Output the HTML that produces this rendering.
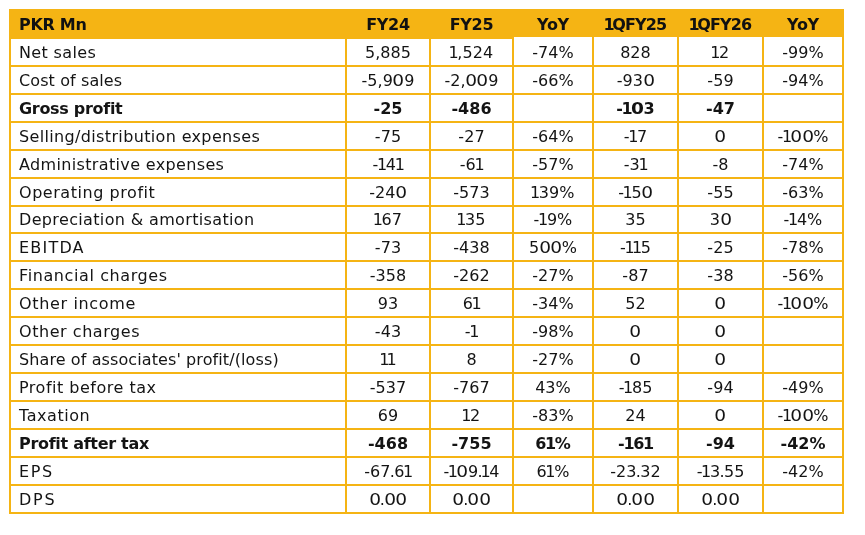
<!DOCTYPE html>
<html><head><meta charset="utf-8"><title>PKR Mn</title>
<style>
html,body{margin:0;padding:0;background:#fff;}
#wrap{position:relative;width:865px;height:535px;background:#fff;overflow:hidden;font-family:"DejaVu Sans", "Liberation Sans", sans-serif;color:#141414;}
.hd{position:absolute;background:#F5B414;}
.v{position:absolute;width:2px;background:#F5B414;top:9px;height:505px;}
.h{position:absolute;height:2px;background:#F5B414;left:9px;width:835px;}
.c{position:absolute;display:flex;align-items:center;justify-content:center;white-space:nowrap;font-size:16px;letter-spacing:0.35px;}
.c span{display:inline-block;transform:translateY(0px) scaleX(1.0);transform-origin:center center;}
.c.l{justify-content:flex-start;}
.c.l span{transform-origin:left center;}
.c.b{font-weight:bold;font-size:16px;letter-spacing:-0.3px;}
.c.b span{transform:translateY(0px) scaleX(1.0);}
.c.hh{font-weight:bold;font-size:16px;letter-spacing:-0.3px;color:#111;}
.c.hh.q{letter-spacing:-0.9px;}
.c.n{letter-spacing:0.05px;}
.c.n.b{letter-spacing:0px;}
.c i{font-style:normal;margin:0 -1.4px;}
.c u{text-decoration:none;display:inline-block;transform:scaleX(1.16);margin:0 0.5px;}
.c s{text-decoration:none;margin:0 -0.7px;}
.c.b i{margin:0 -1.3px;}
.c.hh span{transform:translateY(0px) scaleX(1.0);}
</style></head><body>
<div id="wrap">
<div class="hd" style="left:9px;top:9px;width:835px;height:28px"></div>
<div class="hd" style="left:9px;top:37px;width:504px;height:2px"></div>

<div class="v" style="left:9px"></div>
<div class="v" style="left:345px"></div>
<div class="v" style="left:429px"></div>
<div class="v" style="left:512px"></div>
<div class="v" style="left:592px"></div>
<div class="v" style="left:677px"></div>
<div class="v" style="left:762px"></div>
<div class="v" style="left:842px"></div>
<div class="h" style="top:65px"></div>
<div class="h" style="top:93px"></div>
<div class="h" style="top:121px"></div>
<div class="h" style="top:149px"></div>
<div class="h" style="top:177px"></div>
<div class="h" style="top:205px"></div>
<div class="h" style="top:232px"></div>
<div class="h" style="top:260px"></div>
<div class="h" style="top:288px"></div>
<div class="h" style="top:316px"></div>
<div class="h" style="top:344px"></div>
<div class="h" style="top:372px"></div>
<div class="h" style="top:400px"></div>
<div class="h" style="top:428px"></div>
<div class="h" style="top:456px"></div>
<div class="h" style="top:484px"></div>
<div class="h" style="top:512px"></div>
<div class="c l hh" style="left:19px;top:9px;width:326px;height:30px"><span>PKR Mn</span></div>
<div class="c hh" style="left:347px;top:9px;width:82px;height:30px"><span>FY24</span></div>
<div class="c hh" style="left:431px;top:9px;width:81px;height:30px"><span>FY25</span></div>
<div class="c hh" style="left:514px;top:9px;width:78px;height:30px"><span>YoY</span></div>
<div class="c hh q" style="left:594px;top:9px;width:83px;height:30px"><span><i>1</i>QFY25</span></div>
<div class="c hh q" style="left:679px;top:9px;width:83px;height:30px"><span><i>1</i>QFY26</span></div>
<div class="c hh" style="left:764px;top:9px;width:78px;height:30px"><span>YoY</span></div>
<div class="c l " style="left:19px;top:39px;width:326px;height:26px"><span>Net sales</span></div>
<div class="c n" style="left:347px;top:39px;width:82px;height:26px"><span>5,885</span></div>
<div class="c n" style="left:431px;top:39px;width:81px;height:26px"><span><i>1</i>,524</span></div>
<div class="c n" style="left:514px;top:39px;width:78px;height:26px"><span>-74%</span></div>
<div class="c n" style="left:594px;top:39px;width:83px;height:26px"><span>828</span></div>
<div class="c n" style="left:679px;top:39px;width:83px;height:26px"><span><i>1</i>2</span></div>
<div class="c n" style="left:764px;top:39px;width:78px;height:26px"><span>-99%</span></div>
<div class="c l " style="left:19px;top:67px;width:326px;height:26px;letter-spacing:0.1px"><span>Cost of sales</span></div>
<div class="c n" style="left:347px;top:67px;width:82px;height:26px"><span>-5,9<u>0</u>9</span></div>
<div class="c n" style="left:431px;top:67px;width:81px;height:26px"><span>-2,<u>0</u><u>0</u>9</span></div>
<div class="c n" style="left:514px;top:67px;width:78px;height:26px"><span>-66%</span></div>
<div class="c n" style="left:594px;top:67px;width:83px;height:26px"><span>-93<u>0</u></span></div>
<div class="c n" style="left:679px;top:67px;width:83px;height:26px"><span>-59</span></div>
<div class="c n" style="left:764px;top:67px;width:78px;height:26px"><span>-94%</span></div>
<div class="c l b" style="left:19px;top:95px;width:326px;height:26px"><span>Gross profit</span></div>
<div class="c b n" style="left:347px;top:95px;width:82px;height:26px"><span>-25</span></div>
<div class="c b n" style="left:431px;top:95px;width:81px;height:26px"><span>-486</span></div>
<div class="c b n" style="left:594px;top:95px;width:83px;height:26px"><span>-<i>1</i><u>0</u>3</span></div>
<div class="c b n" style="left:679px;top:95px;width:83px;height:26px"><span>-47</span></div>
<div class="c l " style="left:19px;top:123px;width:326px;height:26px"><span>Selling/distribution expenses</span></div>
<div class="c n" style="left:347px;top:123px;width:82px;height:26px"><span>-75</span></div>
<div class="c n" style="left:431px;top:123px;width:81px;height:26px"><span>-27</span></div>
<div class="c n" style="left:514px;top:123px;width:78px;height:26px"><span>-64%</span></div>
<div class="c n" style="left:594px;top:123px;width:83px;height:26px"><span>-<i>1</i>7</span></div>
<div class="c n" style="left:679px;top:123px;width:83px;height:26px"><span><u>0</u></span></div>
<div class="c n" style="left:764px;top:123px;width:78px;height:26px"><span>-<i>1</i><u>0</u><u>0</u>%</span></div>
<div class="c l " style="left:19px;top:151px;width:326px;height:26px"><span>Administrative expenses</span></div>
<div class="c n" style="left:347px;top:151px;width:82px;height:26px"><span>-<i>1</i>4<i>1</i></span></div>
<div class="c n" style="left:431px;top:151px;width:81px;height:26px"><span>-6<i>1</i></span></div>
<div class="c n" style="left:514px;top:151px;width:78px;height:26px"><span>-57%</span></div>
<div class="c n" style="left:594px;top:151px;width:83px;height:26px"><span>-3<i>1</i></span></div>
<div class="c n" style="left:679px;top:151px;width:83px;height:26px"><span>-8</span></div>
<div class="c n" style="left:764px;top:151px;width:78px;height:26px"><span>-74%</span></div>
<div class="c l " style="left:19px;top:179px;width:326px;height:26px;letter-spacing:0.55px"><span>Operating profit</span></div>
<div class="c n" style="left:347px;top:179px;width:82px;height:26px"><span>-24<u>0</u></span></div>
<div class="c n" style="left:431px;top:179px;width:81px;height:26px"><span>-573</span></div>
<div class="c n" style="left:514px;top:179px;width:78px;height:26px"><span><i>1</i>39%</span></div>
<div class="c n" style="left:594px;top:179px;width:83px;height:26px"><span>-<i>1</i>5<u>0</u></span></div>
<div class="c n" style="left:679px;top:179px;width:83px;height:26px"><span>-55</span></div>
<div class="c n" style="left:764px;top:179px;width:78px;height:26px"><span>-63%</span></div>
<div class="c l " style="left:19px;top:207px;width:326px;height:25px"><span>Depreciation &amp; amortisation</span></div>
<div class="c n" style="left:347px;top:207px;width:82px;height:25px"><span><i>1</i>67</span></div>
<div class="c n" style="left:431px;top:207px;width:81px;height:25px"><span><i>1</i>35</span></div>
<div class="c n" style="left:514px;top:207px;width:78px;height:25px"><span>-<i>1</i>9%</span></div>
<div class="c n" style="left:594px;top:207px;width:83px;height:25px"><span>35</span></div>
<div class="c n" style="left:679px;top:207px;width:83px;height:25px"><span>3<u>0</u></span></div>
<div class="c n" style="left:764px;top:207px;width:78px;height:25px"><span>-<i>1</i>4%</span></div>
<div class="c l " style="left:19px;top:234px;width:326px;height:26px;letter-spacing:1.2px"><span>EBITDA</span></div>
<div class="c n" style="left:347px;top:234px;width:82px;height:26px"><span>-73</span></div>
<div class="c n" style="left:431px;top:234px;width:81px;height:26px"><span>-438</span></div>
<div class="c n" style="left:514px;top:234px;width:78px;height:26px"><span>5<u>0</u><u>0</u>%</span></div>
<div class="c n" style="left:594px;top:234px;width:83px;height:26px"><span>-<i>1</i><i>1</i>5</span></div>
<div class="c n" style="left:679px;top:234px;width:83px;height:26px"><span>-25</span></div>
<div class="c n" style="left:764px;top:234px;width:78px;height:26px"><span>-78%</span></div>
<div class="c l " style="left:19px;top:262px;width:326px;height:26px;letter-spacing:0.6px"><span>Financial charges</span></div>
<div class="c n" style="left:347px;top:262px;width:82px;height:26px"><span>-358</span></div>
<div class="c n" style="left:431px;top:262px;width:81px;height:26px"><span>-262</span></div>
<div class="c n" style="left:514px;top:262px;width:78px;height:26px"><span>-27%</span></div>
<div class="c n" style="left:594px;top:262px;width:83px;height:26px"><span>-87</span></div>
<div class="c n" style="left:679px;top:262px;width:83px;height:26px"><span>-38</span></div>
<div class="c n" style="left:764px;top:262px;width:78px;height:26px"><span>-56%</span></div>
<div class="c l " style="left:19px;top:290px;width:326px;height:26px;letter-spacing:0.65px"><span>Other income</span></div>
<div class="c n" style="left:347px;top:290px;width:82px;height:26px"><span>93</span></div>
<div class="c n" style="left:431px;top:290px;width:81px;height:26px"><span>6<i>1</i></span></div>
<div class="c n" style="left:514px;top:290px;width:78px;height:26px"><span>-34%</span></div>
<div class="c n" style="left:594px;top:290px;width:83px;height:26px"><span>52</span></div>
<div class="c n" style="left:679px;top:290px;width:83px;height:26px"><span><u>0</u></span></div>
<div class="c n" style="left:764px;top:290px;width:78px;height:26px"><span>-<i>1</i><u>0</u><u>0</u>%</span></div>
<div class="c l " style="left:19px;top:318px;width:326px;height:26px;letter-spacing:0.55px"><span>Other charges</span></div>
<div class="c n" style="left:347px;top:318px;width:82px;height:26px"><span>-43</span></div>
<div class="c n" style="left:431px;top:318px;width:81px;height:26px"><span>-<i>1</i></span></div>
<div class="c n" style="left:514px;top:318px;width:78px;height:26px"><span>-98%</span></div>
<div class="c n" style="left:594px;top:318px;width:83px;height:26px"><span><u>0</u></span></div>
<div class="c n" style="left:679px;top:318px;width:83px;height:26px"><span><u>0</u></span></div>
<div class="c l " style="left:19px;top:346px;width:326px;height:26px;letter-spacing:0.1px"><span>Share of associates' profit/(loss)</span></div>
<div class="c n" style="left:347px;top:346px;width:82px;height:26px"><span><i>1</i><i>1</i></span></div>
<div class="c n" style="left:431px;top:346px;width:81px;height:26px"><span>8</span></div>
<div class="c n" style="left:514px;top:346px;width:78px;height:26px"><span>-27%</span></div>
<div class="c n" style="left:594px;top:346px;width:83px;height:26px"><span><u>0</u></span></div>
<div class="c n" style="left:679px;top:346px;width:83px;height:26px"><span><u>0</u></span></div>
<div class="c l " style="left:19px;top:374px;width:326px;height:26px;letter-spacing:0.5px"><span>Profit before tax</span></div>
<div class="c n" style="left:347px;top:374px;width:82px;height:26px"><span>-537</span></div>
<div class="c n" style="left:431px;top:374px;width:81px;height:26px"><span>-767</span></div>
<div class="c n" style="left:514px;top:374px;width:78px;height:26px"><span>43%</span></div>
<div class="c n" style="left:594px;top:374px;width:83px;height:26px"><span>-<i>1</i>85</span></div>
<div class="c n" style="left:679px;top:374px;width:83px;height:26px"><span>-94</span></div>
<div class="c n" style="left:764px;top:374px;width:78px;height:26px"><span>-49%</span></div>
<div class="c l " style="left:19px;top:402px;width:326px;height:26px;letter-spacing:0.55px"><span>Taxation</span></div>
<div class="c n" style="left:347px;top:402px;width:82px;height:26px"><span>69</span></div>
<div class="c n" style="left:431px;top:402px;width:81px;height:26px"><span><i>1</i>2</span></div>
<div class="c n" style="left:514px;top:402px;width:78px;height:26px"><span>-83%</span></div>
<div class="c n" style="left:594px;top:402px;width:83px;height:26px"><span>24</span></div>
<div class="c n" style="left:679px;top:402px;width:83px;height:26px"><span><u>0</u></span></div>
<div class="c n" style="left:764px;top:402px;width:78px;height:26px"><span>-<i>1</i><u>0</u><u>0</u>%</span></div>
<div class="c l b" style="left:19px;top:430px;width:326px;height:26px"><span>Profit after tax</span></div>
<div class="c b n" style="left:347px;top:430px;width:82px;height:26px"><span>-468</span></div>
<div class="c b n" style="left:431px;top:430px;width:81px;height:26px"><span>-755</span></div>
<div class="c b n" style="left:514px;top:430px;width:78px;height:26px"><span>6<i>1</i>%</span></div>
<div class="c b n" style="left:594px;top:430px;width:83px;height:26px"><span>-<i>1</i>6<i>1</i></span></div>
<div class="c b n" style="left:679px;top:430px;width:83px;height:26px"><span>-94</span></div>
<div class="c b n" style="left:764px;top:430px;width:78px;height:26px"><span>-42%</span></div>
<div class="c l " style="left:19px;top:458px;width:326px;height:26px;letter-spacing:1.6px"><span>EPS</span></div>
<div class="c n" style="left:347px;top:458px;width:82px;height:26px"><span>-67<s>.</s>6<i>1</i></span></div>
<div class="c n" style="left:431px;top:458px;width:81px;height:26px"><span>-<i>1</i><u>0</u>9<s>.</s><i>1</i>4</span></div>
<div class="c n" style="left:514px;top:458px;width:78px;height:26px"><span>6<i>1</i>%</span></div>
<div class="c n" style="left:594px;top:458px;width:83px;height:26px"><span>-23<s>.</s>32</span></div>
<div class="c n" style="left:679px;top:458px;width:83px;height:26px"><span>-<i>1</i>3<s>.</s>55</span></div>
<div class="c n" style="left:764px;top:458px;width:78px;height:26px"><span>-42%</span></div>
<div class="c l " style="left:19px;top:486px;width:326px;height:26px;letter-spacing:1.8px"><span>DPS</span></div>
<div class="c n" style="left:347px;top:486px;width:82px;height:26px"><span><u>0</u><s>.</s><u>0</u><u>0</u></span></div>
<div class="c n" style="left:431px;top:486px;width:81px;height:26px"><span><u>0</u><s>.</s><u>0</u><u>0</u></span></div>
<div class="c n" style="left:594px;top:486px;width:83px;height:26px"><span><u>0</u><s>.</s><u>0</u><u>0</u></span></div>
<div class="c n" style="left:679px;top:486px;width:83px;height:26px"><span><u>0</u><s>.</s><u>0</u><u>0</u></span></div>
</div></body></html>
